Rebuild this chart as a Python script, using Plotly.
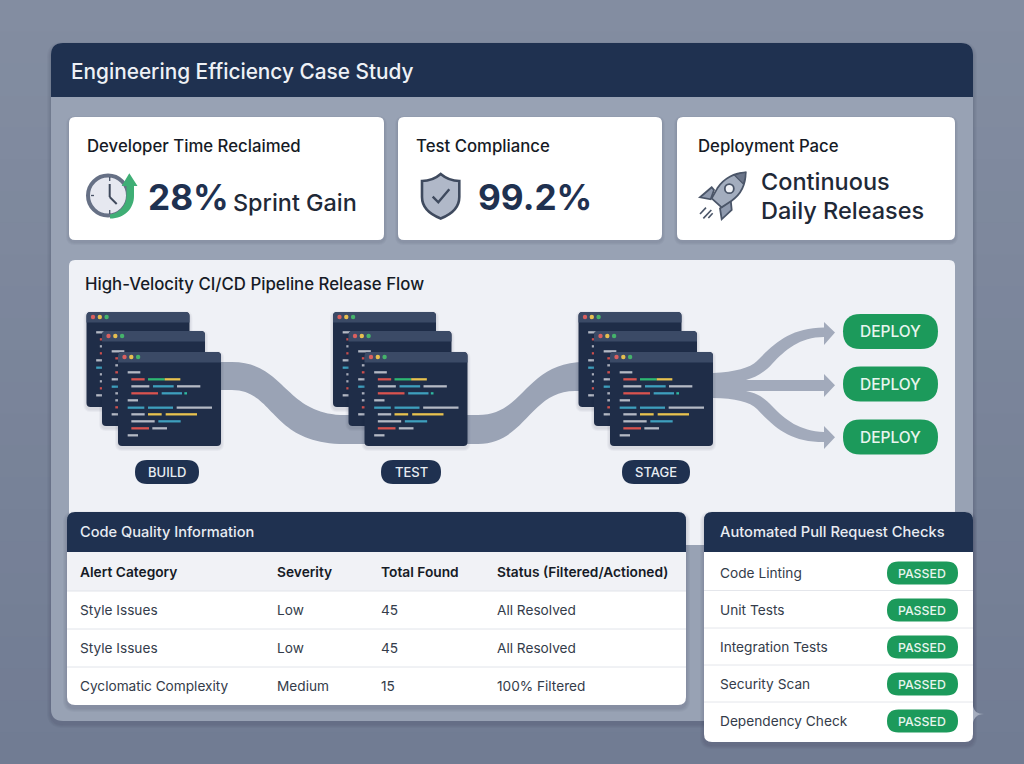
import plotly.graph_objects as go

TITLE = "Engineering Efficiency Case Study"
KPI_TITLES = ["Developer Time Reclaimed", "Test Compliance", "Deployment Pace"]
KPI_VALUES = ["28%", "99.2%"]
KPI_UNIT = "Sprint Gain"
KPI_PACE = ["Continuous", "Daily Releases"]
FLOW_TITLE = "High-Velocity CI/CD Pipeline Release Flow"
STAGES = ["BUILD", "TEST", "STAGE"]
DEPLOY_LABEL = "DEPLOY"
TABLE_TITLE = "Code Quality Information"
TABLE_COLUMNS = ["Alert Category", "Severity", "Total Found", "Status (Filtered/Actioned)"]
ALERT_CATEGORY = ["Style Issues", "Style Issues", "Cyclomatic Complexity"]
SEVERITY = ["Low", "Low", "Medium"]
TOTAL_FOUND = ["45", "45", "15"]
STATUS = ["All Resolved", "All Resolved", "100% Filtered"]
CHECKS_TITLE = "Automated Pull Request Checks"
CHECK_NAMES = ["Code Linting", "Unit Tests", "Integration Tests", "Security Scan", "Dependency Check"]
CHECK_RESULT = ["PASSED", "PASSED", "PASSED", "PASSED", "PASSED"]

NAVY = "#1f3150"
GREEN = "#1c9a5b"
FONT = "Inter"
shapes = []
notes = []


def rr(x0, y0, x1, y1, r=0, rb=None):
    rb = r if rb is None else rb
    return (f"M{x0+r},{y0} L{x1-r},{y0} Q{x1},{y0} {x1},{y0+r} L{x1},{y1-rb} Q{x1},{y1} {x1-rb},{y1} "
            f"L{x0+rb},{y1} Q{x0},{y1} {x0},{y1-rb} L{x0},{y0+r} Q{x0},{y0} {x0+r},{y0} Z")


def path(d, fill=None, line=None, w=0, op=None):
    s = dict(type="path", path=d, xref="x", yref="y", layer="above",
             line=dict(width=w, color=line or "rgba(0,0,0,0)"))
    s["fillcolor"] = fill or "rgba(0,0,0,0)"
    if op is not None:
        s["opacity"] = op
    shapes.append(s)


def box(x0, y0, x1, y1, fill, r=0, rb=None):
    path(rr(x0, y0, x1, y1, r, rb), fill)


def shadow(x0, y0, x1, y1, r=6, dy=3, n=4, c="25,35,60"):
    for i in range(n, 0, -1):
        path(rr(x0 - i, y0 + dy - i, x1 + i, y1 + dy + i, r + i), f"rgba({c},0.035)")


def circle(cx, cy, r, fill=None, line=None, w=0):
    shapes.append(dict(type="circle", xref="x", yref="y", layer="above", x0=cx - r, x1=cx + r, y0=cy - r, y1=cy + r,
                       fillcolor=fill or "rgba(0,0,0,0)", line=dict(width=w, color=line or "rgba(0,0,0,0)")))


def seg(x0, y0, x1, y1, c, w=1):
    shapes.append(dict(type="line", xref="x", yref="y", layer="above", x0=x0, y0=y0, x1=x1, y1=y1,
                       line=dict(color=c, width=w)))


def text(x, y, t, size, color, weight=400, anchor="left"):
    if anchor == "left":
        x -= 1
    notes.append(dict(x=x, y=y + 0.3, xref="x", yref="y", text=t, showarrow=False, xanchor=anchor, yanchor="middle",
                      borderpad=0, font=dict(family=FONT, size=size, color=color, weight=weight)))


# page background
BG_TOP, BG_BOT = (131, 141, 161), (113, 124, 147)
for i in range(24):
    t = i / 23
    c = tuple(round(a + (b - a) * t) for a, b in zip(BG_TOP, BG_BOT))
    shapes.append(dict(type="rect", xref="x", yref="y", layer="above", x0=0, x1=1024, y0=i * 764 / 24,
                       y1=(i + 1) * 764 / 24 + 1, fillcolor=f"rgb{c}", line=dict(width=0)))

# outer panel
shadow(51, 43, 973, 721, 12, 3, 4)
box(51, 43, 973, 721, "#98a2b4", 12)
path(f"M51,97 L51,55 Q51,43 63,43 L961,43 Q973,43 973,55 L973,97 Z", NAVY)
text(71, 71, TITLE, 20.8, "#eef1f6", 500)

# KPI cards
for x0, x1 in [(69, 384), (398, 662), (677, 955)]:
    shadow(x0, 117, x1, 240, 6, 2, 3)
    box(x0, 117, x1, 240, "#ffffff", 6)
for x, t in zip([87, 416, 698], KPI_TITLES):
    text(x, 146, t, 16.75, "#161b26", 500)
text(148, 197, KPI_VALUES[0], 35.2, NAVY, 700)
text(233, 202, KPI_UNIT, 23.4, "#1f2937", 500)
text(478, 197, KPI_VALUES[1], 35.2, NAVY, 700)
text(761, 181, KPI_PACE[0], 23.5, "#1f2937", 500)
text(761, 210, KPI_PACE[1], 23.5, "#1f2937", 500)

# clock icon
circle(108, 195.5, 20, "#e6e8f0", "#667085", 4)
seg(109.7, 177, 109.7, 181, "#4a5568", 1.3)
seg(109.7, 210, 109.7, 214, "#4a5568", 1.3)
seg(91, 195.5, 94, 195.5, "#4a5568", 1.3)
seg(109.7, 184, 109.7, 197, "#3f495c", 2)
seg(109.7, 197, 116.7, 204, "#3f495c", 2)
path("M126.5,186 L126.5,196 C126.5,206 119,213 110,214.5 L110,218.5 C125,218.5 134,208 134,196 L134,186 "
     "L137.5,186 L129.3,173.3 L121.7,186 Z", "#3fae75")

# shield icon
SH = "M440.7,174 C446,178.5 453,181 459.3,181 L459.3,197 C459.3,208 451,214.5 440.7,218.5 C430.5,214.5 422,208 422,197 L422,181 C428.5,181 435.5,178.5 440.7,174 Z"
path(SH, "#b0b8c8", "#3f4a5e", 2.6)
path("M432.7,196.7 L438.3,202.3 L449.3,189.3", None, "#3f4a5e", 2.4)

# rocket icon
RX = lambda z: 680 + z / 3
RY = lambda z: 110 + z / 3
def rp(points):
    return "M" + " L".join(f"{RX(a):.1f},{RY(b):.1f}" for a, b in points) + " Z"
path(rp([(95, 232), (60, 262), (92, 268), (102, 240)]), "#8f9aae", "#4a5568", 1.8)
path(rp([(152, 270), (155, 300), (125, 328), (120, 295)]), "#8f9aae", "#4a5568", 1.8)
path(f"M{RX(197)},{RY(187)} C{RX(165)},{RY(188)} {RX(130)},{RY(205)} {RX(112)},{RY(235)} L{RX(95)},{RY(265)} L{RX(125)},{RY(292)} "
     f"L{RX(155)},{RY(272)} C{RX(180)},{RY(255)} {RX(197)},{RY(225)} {RX(197)},{RY(187)} Z", "#a3adbe", "#4a5568", 1.8)
path(f"M{RX(197)},{RY(187)} C{RX(185)},{RY(188)} {RX(175)},{RY(190)} {RX(164)},{RY(196)} L{RX(190)},{RY(222)} C{RX(195)},{RY(210)} {RX(197)},{RY(198)} {RX(197)},{RY(187)} Z", "#6b7589", "#4a5568", 1.2)
circle(RX(148), RY(236), 4.5, "#f2f4f8", "#4a5568", 1.8)
seg(RX(60), RY(312), RX(78), RY(293), "#4a5568", 1.6)
seg(RX(70), RY(325), RX(94), RY(300), "#4a5568", 1.6)
seg(RX(85), RY(324), RX(98), RY(310), "#4a5568", 1.6)

# flow panel
box(69, 260, 955, 545, "#eff1f6", 6)
text(85, 284, FLOW_TITLE, 16.8, "#161b26", 500)

# ribbons
RIBBON = "#9aa3b5"
path("M215,362 L232,362 C285,362 285,415 345,415 L370,415 L370,444 L345,444 C270,444 275,390 232,390 L215,390 Z", RIBBON)
path("M460,415 L478,415 C525,415 525,362 585,362 L590,362 L590,391 L575,391 C530,391 525,444 478,444 L460,444 Z", RIBBON)
path("M705,373 L713,373 C735,372 750,368 757,361 C775,343 790,328 824,327.5 L824,322 L835,332.5 L824,345 L824,337 "
     "C800,337 785,350 772,364 C765,372 755,378 746,380 L824,380 L824,374 L835,385.3 L824,397 L824,391 L746,391 "
     "C760,394 765,399 772,406 C785,420 800,431 824,432 L824,426 L835,437.3 L824,449 L824,442 "
     "C790,442 775,428 757,409 C750,402 735,398 713,398 L705,398 Z", "#a2aabb")

# code windows
CODE = [(29, 67, 61, "#b4b9c4"), (40, 80, 82, "#d9534f"), (90, 140, 82, "#2eb872"), (140, 187, 82, "#e8c24f"),
        (40, 94, 103, "#b4b9c4"), (105, 167, 103, "#3e9fbd"), (177, 247, 103, "#b4b9c4"),
        (40, 120, 124, "#d9534f"), (131, 192, 124, "#3e9fbd"), (199, 207, 124, "#2eb8a0"),
        (29, 60, 145, "#b4b9c4"), (29, 79, 167, "#3e9fbd"), (90, 165, 167, "#3e9fbd"), (176, 282, 167, "#b4b9c4"),
        (40, 80, 187, "#b4b9c4"), (90, 131, 187, "#e8c24f"), (143, 237, 187, "#e8c24f"),
        (40, 110, 208, "#b4b9c4"), (121, 188, 208, "#3e9fbd"),
        (40, 93, 229, "#d9534f"), (103, 147, 229, "#b4b9c4"), (29, 60, 250, "#b4b9c4")]
for dx in (0, 246.5, 492):
    for wx, wy, wb in [(86.5, 312, 407), (102, 331, 426), (118, 352, 446)]:
        x0, x1 = wx + dx, wx + dx + 103
        shadow(x0, wy, x1, wb, 4, 2, 3, "20,30,50")
        box(x0, wy, x1, wb, "#1f2d48", 4)
        path(f"M{x0},{wy+10.5} L{x0},{wy+4} Q{x0},{wy} {x0+4},{wy} L{x1-4},{wy} Q{x1},{wy} {x1},{wy+4} L{x1},{wy+10.5} Z", "#3b4a66")
        for k, c in enumerate(["#d9605f", "#e6bf50", "#45b36b"]):
            circle(x0 + 6.5 + k * 6.8, wy + 5, 2.2, c)
        for a, b, y, c in CODE:
            seg(x0 + a / 3, wy + y / 3, x0 + b / 3, wy + y / 3, c, 2.3)

for cx, w, label in zip([167, 411, 656], [64, 60, 68], STAGES):
    box(cx - w / 2, 460, cx + w / 2, 484, NAVY, 12)
    text(cx, 472, label, 13, "#e8ecf2", 500, "center")

for y in (331.5, 384, 437):
    box(843, y - 17.5, 938, y + 17.5, GREEN, 17.5)
    text(890.5, y, DEPLOY_LABEL, 15.5, "#e8f5ee", 500, "center")

# table
shadow(67, 512, 686, 705, 8, 3, 4)
box(67, 512, 686, 705, "#ffffff", 8)
path("M67,552 L67,520 Q67,512 75,512 L678,512 Q686,512 686,520 L686,552 Z", NAVY)
text(80, 532, TABLE_TITLE, 14.6, "#e8ecf2", 500)
path("M67,552 L686,552 L686,591 L67,591 Z", "#f1f2f6")
COLX = [80, 277, 381, 497]
for x, t in zip(COLX, TABLE_COLUMNS):
    text(x, 572, t, 13.75, "#161b26", 600)
seg(67, 591, 686, 591, "#e1e4ea", 1)
seg(67, 629, 686, 629, "#e1e4ea", 1)
seg(67, 667, 686, 667, "#e1e4ea", 1)
for y, row in zip([610, 648, 686], zip(ALERT_CATEGORY, SEVERITY, TOTAL_FOUND, STATUS)):
    for x, t in zip(COLX, row):
        text(x, y, t, 13.65, "#343c4a", 400)

# checks
shadow(704, 512, 973, 742, 8, 3, 4)
box(704, 512, 973, 742, "#ffffff", 8)
path("M704,552 L704,520 Q704,512 712,512 L965,512 Q973,512 973,520 L973,552 Z", NAVY)
text(720, 532, CHECKS_TITLE, 14.7, "#e8ecf2", 500)
for y in (590.5, 628, 665, 702):
    seg(704, y, 973, y, "#e4e6eb", 1)
for y, n, res in zip([573, 610, 647, 684, 721], CHECK_NAMES, CHECK_RESULT):
    text(720, y, n, 13.7, "#343c4a", 400)
    box(887, y - 11.5, 958, y + 11.5, GREEN, 11.5)
    text(922, y, res, 12.3, "#e8f5ee", 500, "center")

# small sparkle at the card edge
path("M973,706 C974,711 977,714 984,714 C977,714 974,718 973,723 Z", "#a4acbd")

fig = go.Figure()
fig.update_layout(width=1024, height=764, margin=dict(l=0, r=0, t=0, b=0), showlegend=False,
                  paper_bgcolor="#7a869d", plot_bgcolor="#7a869d", shapes=shapes, annotations=notes,
                  xaxis=dict(visible=False, range=[0, 1024], fixedrange=True),
                  yaxis=dict(visible=False, range=[764, 0], fixedrange=True))
fig.write_html("out.html", config=dict(displayModeBar=False),
               post_script="document.body.style.margin='0';document.body.style.overflow='hidden';")
